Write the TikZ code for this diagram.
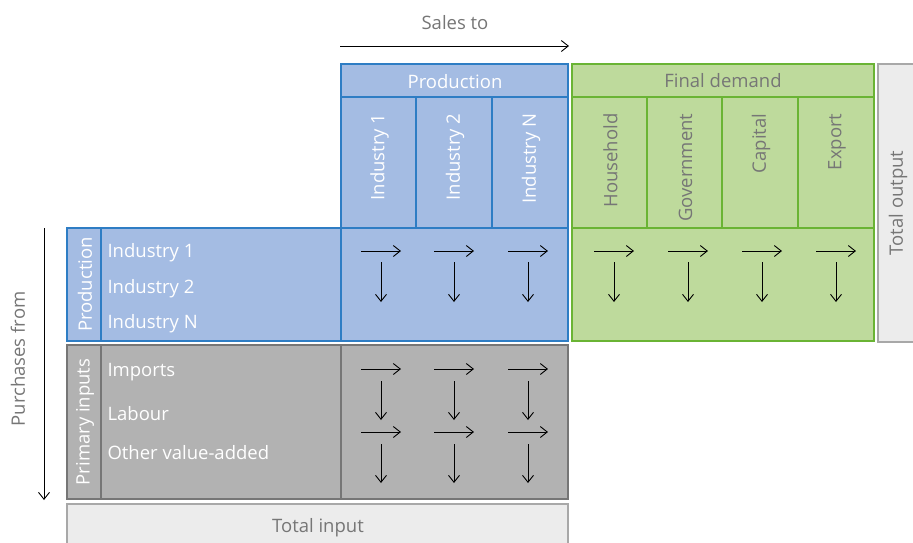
\documentclass[tikz,border=0pt]{standalone}
\usepackage{fontspec}
\setmainfont{Open Sans}
\usetikzlibrary{arrows.meta}
\definecolor{prodfill}{RGB}{164,188,227}
\definecolor{prodline}{RGB}{46,125,196}
\definecolor{finalfill}{RGB}{190,218,156}
\definecolor{finalline}{RGB}{106,180,52}
\definecolor{primfill}{RGB}{178,178,178}
\definecolor{primline}{RGB}{118,118,118}
\definecolor{totalfill}{RGB}{236,236,236}
\definecolor{totalline}{RGB}{168,168,168}
\definecolor{labelgray}{RGB}{118,118,118}

\begin{document}
\begin{tikzpicture}[x=1pt,y=-1pt,>={Straight Barb[length=7pt,width=11pt]},
    prod cell/.style={draw=prodline,fill=prodfill,line width=2.6pt},
    final cell/.style={draw=finalline,fill=finalfill,line width=2.6pt},
    prim cell/.style={draw=primline,fill=primfill,line width=2.6pt},
    total cell/.style={draw=totalline,fill=totalfill,line width=2.6pt},
    white label/.style={text=white,font=\fontsize{18.5}{22}\selectfont},
    gray label/.style={text=labelgray,font=\fontsize{18.5}{22}\selectfont},
    row label/.style={white label,anchor=base west},
    col label/.style={rotate=90,anchor=east},
    flow/.style={->,line width=0.9pt}]
  \useasboundingbox (0,0) rectangle (913,542);
  \clip (0,0) rectangle (913,542);

  % sales to
  \node[gray label,anchor=base] (sales) at (455,29) {Sales to};
  \coordinate (sales start) at (340,46);
  \coordinate (sales end) at (569,46);
  \draw[flow] (sales start) -- (sales end);

  % purchases from
  \node[gray label,rotate=90] (purchases) at (18,359) {Purchases from};
  \coordinate (purch start) at (44,228);
  \coordinate (purch end) at (44,500);
  \draw[flow] (purch start) -- (purch end);

  % production columns
  \draw[prod cell] (341,64) rectangle (568,97);
  \node[white label,anchor=base] (prodhead) at (455,88) {Production};
  \draw[prod cell] (341,97) rectangle (416,228);
  \draw[prod cell] (416,97) rectangle (492,228);
  \draw[prod cell] (492,97) rectangle (568,228);
  \node[white label,col label] (col1) at (379.5,110) {Industry 1};
  \node[white label,col label] (col2) at (455,110) {Industry 2};
  \node[white label,col label] (colN) at (531,110) {Industry N};

  % final demand columns
  \draw[final cell] (572,64) rectangle (874,97);
  \node[gray label,anchor=base] (finalhead) at (723,87.5) {Final demand};
  \draw[final cell] (572,97) rectangle (647,228);
  \draw[final cell] (647,97) rectangle (722,228);
  \draw[final cell] (722,97) rectangle (798,228);
  \draw[final cell] (798,97) rectangle (874,228);
  \node[gray label,col label] (household) at (610.5,110) {Household};
  \node[gray label,col label] (government) at (685.5,110) {Government};
  \node[gray label,col label] (capital) at (761,110) {Capital};
  \node[gray label,col label] (export) at (837,110) {Export};

  % total output
  \draw[total cell] (878,64) rectangle (930,342);
  \node[gray label,rotate=90] (totalout) at (898,203) {Total output};

  % production rows
  \draw[prod cell] (67,228) rectangle (101,341);
  \draw[prod cell] (101,228) rectangle (341,341);
  \draw[prod cell] (341,228) rectangle (568,341);
  \draw[final cell] (572,228) rectangle (874,341);
  \node[white label,rotate=90] (prodrow) at (85,284.5) {Production};
  \node[row label] (row1) at (104,257) {Industry 1};
  \node[row label] (row2) at (104,293) {Industry 2};
  \node[row label] (rowN) at (104,328) {Industry N};

  % primary inputs rows
  \draw[prim cell] (67,345) rectangle (101,499);
  \draw[prim cell] (101,345) rectangle (341,499);
  \draw[prim cell] (341,345) rectangle (568,499);
  \node[white label,rotate=90] (primrow) at (85,422) {Primary inputs};
  \node[row label] (imports) at (104,376) {Imports};
  \node[row label] (labour) at (104,420) {Labour};
  \node[row label] (other) at (104,459) {Other value-added};

  % total input
  \draw[total cell] (67,504) rectangle (568,560);
  \node[gray label,anchor=base] (totalin) at (318,532) {Total input};

  % flows in the cells
  \foreach \x in {381,454,528} {
    \draw[flow] (\x-20,251) -- (\x+20,251);
    \draw[flow] (\x,262) -- (\x,302);
    \draw[flow] (\x-20,369) -- (\x+20,369);
    \draw[flow] (\x,381) -- (\x,420);
    \draw[flow] (\x-20,432) -- (\x+20,432);
    \draw[flow] (\x,444) -- (\x,483);
  }
  \foreach \x in {614,688,762,836} {
    \draw[flow] (\x-20,251) -- (\x+20,251);
    \draw[flow] (\x,262) -- (\x,302);
  }
\end{tikzpicture}
\end{document}
